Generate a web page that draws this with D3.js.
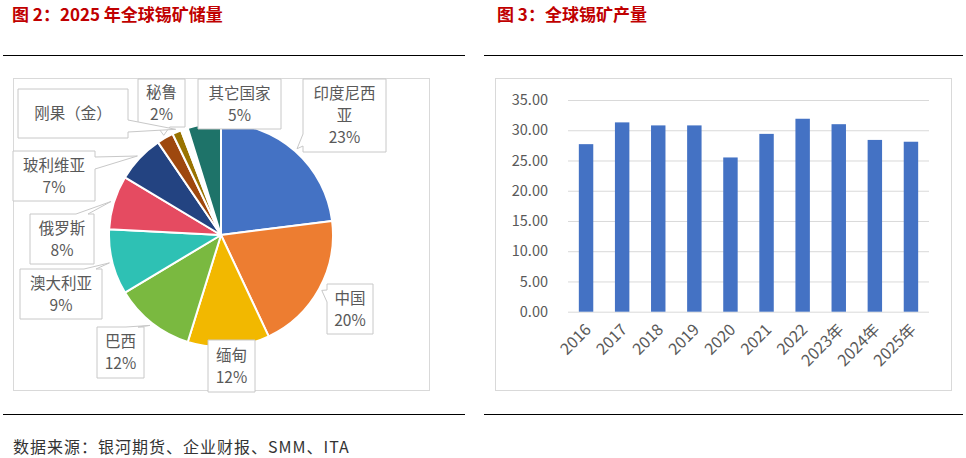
<!DOCTYPE html>
<html>
<head>
<meta charset="utf-8">
<script src="https://cdn.jsdelivr.net/npm/d3@7"></script>
<style>
  body { margin: 0; background: #fff; }
  text { font-family: "Noto Sans CJK SC", "Noto Sans", sans-serif; }
</style>
</head>
<body>
<svg id="chart" width="966" height="458"></svg>
<script>
'use strict';

// 图2：储量占比
const reserve_names = ['印度尼西亚', '中国', '缅甸', '巴西', '澳大利亚', '俄罗斯', '玻利维亚', '秘鲁', '刚果（金）', '', '其它国家'];
const reserve_values = [23, 20, 11.8, 11.6, 9.4, 7.8, 6.9, 2.4, 1.3, 1.0, 4.8];
const reserve_label_lines = [['印度尼西', '亚'], ['中国'], ['缅甸'], ['巴西'], ['澳大利亚'], ['俄罗斯'], ['玻利维亚'], ['秘鲁'], ['刚果（金）'], [], ['其它国家']];
const reserve_show_pct = [true, true, true, true, true, true, true, true, false, false, true];

// 图3：产量
const output_years = ['2016', '2017', '2018', '2019', '2020', '2021', '2022', '2023年', '2024年', '2025年'];
const output_values = [27.7, 31.3, 30.8, 30.8, 25.5, 29.4, 31.9, 31.0, 28.4, 28.1];
const output_ticks = [0, 5, 10, 15, 20, 25, 30, 35];

const slice_colors = ['#4472C4', '#ED7D31', '#F2B800', '#7AB940', '#2EC1B4', '#E54B61',
                      '#234381', '#9E480E', '#997300', '#FFFFFF', '#1E7369'];

// callout boxes, placed by hand like in the original sheet
const callouts = [
  { box: [303, 79, 83, 73], side: 'l' },
  { box: [327, 284, 46, 50], side: 'l' },
  { box: [208, 340, 47, 52], side: null },
  { box: [97, 327, 47, 51], side: 't' },
  { box: [20, 269, 82, 50], side: 't' },
  { box: [30, 214, 64, 50], side: 't' },
  { box: [13, 151, 82, 50], side: 'r' },
  { box: [138, 79, 47, 48], side: 'b' },
  { box: [18, 89, 110, 49], side: 'r' },
  null,
  { box: [198, 79, 83, 50], side: null },
];

const svg = d3.select('#chart');
const text_grey = '#595959';

// titles, separators, source
svg.append('text').attr('x', 12).attr('y', 21).text('图 2：2025 年全球锡矿储量')
  .attr('font-size', 17).attr('font-weight', 'bold').attr('fill', '#C00000');
svg.append('text').attr('x', 497).attr('y', 21).text('图 3：全球锡矿产量')
  .attr('font-size', 17).attr('font-weight', 'bold').attr('fill', '#C00000');

for (const [x1, x2] of [[3, 465], [484, 963]]) {
  svg.append('line').attr('x1', x1).attr('x2', x2).attr('y1', 55.5).attr('y2', 55.5)
    .attr('stroke', '#000').attr('stroke-width', 1.2);
  svg.append('line').attr('x1', x1).attr('x2', x2).attr('y1', 414.5).attr('y2', 414.5)
    .attr('stroke', '#000').attr('stroke-width', 1.2);
}
svg.append('text').attr('x', 13).attr('y', 453).text('数据来源：银河期货、企业财报、SMM、ITA')
  .attr('font-size', 16).attr('letter-spacing', 1).attr('fill', '#333');

// ---------- pie ----------
function pie_chart() {
  svg.append('rect').attr('x', 13.5).attr('y', 78.5).attr('width', 416).attr('height', 312)
    .attr('fill', '#fff').attr('stroke', '#d9d9d9');

  const cx = 221, cy = 235, r = 112;
  const g = svg.append('g').attr('transform', `translate(${cx},${cy})`);
  const pie = d3.pie().sort(null).value(d => d.value);
  const arc = d3.arc().innerRadius(0).outerRadius(r);
  const tip_arc = d3.arc().innerRadius(r + 3).outerRadius(r + 3);

  const data = reserve_names.map((name, i) => ({ name, value: reserve_values[i], i }));
  const total = d3.sum(reserve_values);
  const arcs = pie(data);

  g.selectAll('path.slice').data(arcs).join('path')
    .attr('class', 'slice')
    .attr('d', arc)
    .attr('fill', d => slice_colors[d.data.i])
    .attr('stroke', '#fff').attr('stroke-width', 2).attr('stroke-linejoin', 'round');

  const clamp = (v, a, b) => Math.max(a, Math.min(b, v));
  function callout_path(b, side, tip) {
    const [x, y, w, h] = b;
    const bw = 12;
    const pts = [[x, y]];
    if (side === 't') { const c = clamp(tip[0], x + bw, x + w - bw); pts.push([c - bw / 2, y], tip, [c + bw / 2, y]); }
    pts.push([x + w, y]);
    if (side === 'r') { const c = clamp(tip[1], y + bw, y + h - bw); pts.push([x + w, c - bw / 2], tip, [x + w, c + bw / 2]); }
    pts.push([x + w, y + h]);
    if (side === 'b') { const c = clamp(tip[0], x + bw, x + w - bw); pts.push([c + bw / 2, y + h], tip, [c - bw / 2, y + h]); }
    pts.push([x, y + h]);
    if (side === 'l') { const c = clamp(tip[1], y + bw, y + h - bw); pts.push([x, c + bw / 2], tip, [x, c - bw / 2]); }
    return 'M' + pts.join('L') + 'Z';
  }

  arcs.forEach(a => {
    const c = callouts[a.data.i];
    if (!c) return;
    const [tx, ty] = tip_arc.centroid(a);
    const tip = [tx + cx, ty + cy];
    const [x, y, w, h] = c.box;
    svg.append('path')
      .attr('d', callout_path(c.box, c.side, tip))
      .attr('fill', '#fff').attr('stroke', '#c8c8c8').attr('stroke-width', 1);

    const lines = reserve_label_lines[a.data.i].slice();
    if (reserve_show_pct[a.data.i]) lines.push(Math.round(a.data.value / total * 100) + '%');
    const lh = 22;
    const y0 = y + h / 2 - (lines.length - 1) * lh / 2;
    const t = svg.append('text').attr('text-anchor', 'middle')
      .attr('font-size', 15.5).attr('fill', text_grey);
    lines.forEach((s, k) => {
      t.append('tspan').attr('x', x + w / 2).attr('y', y0 + k * lh).attr('dy', '0.36em').text(s);
    });
  });
}

// ---------- bars ----------
function bar_chart() {
  svg.append('rect').attr('x', 495.5).attr('y', 78.5).attr('width', 456).attr('height', 312)
    .attr('fill', '#fff').attr('stroke', '#d9d9d9');

  const x = d3.scaleBand().domain(output_years).range([568, 929])
    .paddingInner(0.6).paddingOuter(0.3);
  const y = d3.scaleLinear().domain([0, 35]).range([311.7, 100]);

  const yaxis = svg.append('g').attr('transform', 'translate(568,0)')
    .call(d3.axisLeft(y).tickValues(output_ticks).tickFormat(d3.format('.2f'))
      .tickSize(-(929 - 568)).tickPadding(20));
  yaxis.select('.domain').remove();
  yaxis.selectAll('line').attr('stroke', '#d9d9d9');
  yaxis.selectAll('text').attr('fill', text_grey).attr('font-size', 14.5)
    .attr('font-family', '"Noto Sans", "Noto Sans CJK SC", sans-serif');

  svg.append('g').selectAll('rect').data(output_values).join('rect')
    .attr('x', (d, i) => x(output_years[i]))
    .attr('y', d => y(d))
    .attr('width', x.bandwidth())
    .attr('height', d => y(0) - y(d))
    .attr('fill', '#4472C4');

  svg.append('g').selectAll('text').data(output_years).join('text')
    .attr('transform', d => `translate(${x(d) + x.bandwidth() / 2 + 6},${y(0) + 19}) rotate(-45)`)
    .attr('text-anchor', 'end')
    .attr('font-size', 16)
    .attr('font-family', '"Noto Sans", "Noto Sans CJK SC", sans-serif')
    .attr('fill', text_grey)
    .text(d => d);
}

pie_chart();
bar_chart();
</script>
</body>
</html>
